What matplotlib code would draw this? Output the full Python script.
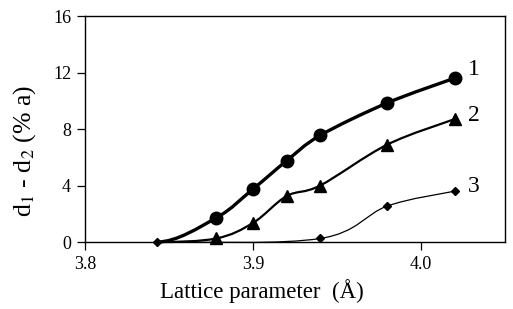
import matplotlib.pyplot as plt
import numpy as np
from matplotlib.path import Path
from matplotlib.patches import PathPatch

plt.rcParams['font.family'] = ['Liberation Serif', 'DejaVu Serif']
plt.rcParams['mathtext.fontset'] = 'stix'

# lattice parameter (A) and d1 - d2 (% a) for the three curves
a1 = [3.843, 3.878, 3.90, 3.92, 3.94, 3.98, 4.02]
d1 = [0, 1.7, 3.75, 5.75, 7.55, 9.85, 11.6]
a2 = [3.843, 3.878, 3.90, 3.92, 3.94, 3.98, 4.02]
d2 = [0, 0.25, 1.35, 3.25, 4.0, 6.9, 8.7]
a3 = [3.843, 3.94, 3.98, 4.02]
d3 = [0, 0.25, 2.55, 3.6]
curve_names = ["1", "2", "3"]


def smooth_path(x, y):
    # smoothed line, bezier pieces, flat start
    p = np.column_stack([x, y]).astype(float)
    n = len(p)
    verts = [p[0]]
    codes = [Path.MOVETO]
    for i in range(n - 1):
        p1 = p[i]
        p2 = p[i + 1]
        p3 = p[min(i + 2, n - 1)]
        if i == 0:
            c1 = p1 + np.array([(p2[0] - p1[0]) / 3, 0])
        else:
            c1 = p1 + (p2 - p[i - 1]) / 6
        verts += [c1, p2 - (p3 - p1) / 6, p2]
        codes += [Path.CURVE4] * 3
    return Path(verts, codes)


fig = plt.figure(figsize=(5.13, 3.09), dpi=100)
ax = fig.add_axes([0.1657, 0.2168, 0.8187, 0.7314])

for x, y, lw in [(a1, d1, 2.4), (a2, d2, 1.6), (a3, d3, 0.9)]:
    ax.add_patch(PathPatch(smooth_path(x, y), fill=False, lw=lw,
                           color='black', clip_on=False, capstyle='round'))

ax.plot(a1[1:], d1[1:], 'o', color='black', ms=9, clip_on=False)
ax.plot(a2[1:], d2[1:], '^', color='black', ms=8, clip_on=False)
ax.plot(a3, d3, 'D', color='black', ms=4.5, clip_on=False)

for x, y, name, dy in [(a1[-1], d1[-1], curve_names[0], 6.5),
                       (a2[-1], d2[-1], curve_names[1], 2.5),
                       (a3[-1], d3[-1], curve_names[2], 3)]:
    ax.annotate(name, (x, y), xytext=(9.5, dy), textcoords='offset points',
                fontsize=17, va='center', ha='left')

ax.set_xlim(3.8, 4.05)
ax.set_ylim(0, 16)
ax.set_xticks([3.8, 3.9, 4.0])
ax.set_xticklabels(['3.8', '3.9', '4.0'])
ax.set_yticks([0, 4, 8, 12, 16])
ax.tick_params(direction='out', length=6, width=0.9, labelsize=13, pad=4)
for s in ax.spines.values():
    s.set_linewidth(1.0)

ax.set_xlabel('Lattice parameter  (Å)', fontsize=16.5)
ax.set_ylabel('d$_1$ - d$_2$ (% a)', fontsize=18.5)
ax.xaxis.set_label_coords(0.421, -0.165)
ax.yaxis.set_label_coords(-0.112, 0.405)

fig.savefig('out.png', dpi=100)
